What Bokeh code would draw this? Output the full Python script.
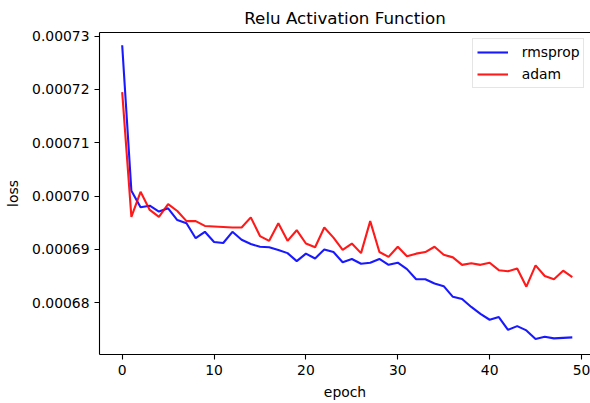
from bokeh.plotting import figure
from bokeh.models import Range1d, FixedTicker, PrintfTickFormatter, LinearAxis, Legend, LegendItem
from bokeh.embed import file_html
from bokeh.resources import INLINE

epochs = list(range(50))
rmsprop = [72.83, 70.10, 69.79, 69.82, 69.71, 69.77, 69.55, 69.49, 69.21, 69.33,
           69.14, 69.12, 69.33, 69.18, 69.10, 69.05, 69.04, 68.99, 68.93, 68.78,
           68.92, 68.83, 69.00, 68.95, 68.76, 68.82, 68.73, 68.75, 68.82, 68.71,
           68.75, 68.63, 68.44, 68.44, 68.36, 68.31, 68.11, 68.07, 67.92, 67.79,
           67.68, 67.73, 67.49, 67.56, 67.48, 67.32, 67.36, 67.33, 67.34, 67.35]
adam = [71.95, 69.61, 70.08, 69.74, 69.61, 69.85, 69.72, 69.53, 69.53, 69.44,
        69.43, 69.42, 69.41, 69.41, 69.60, 69.25, 69.16, 69.49, 69.16, 69.36,
        69.11, 69.04, 69.41, 69.22, 68.99, 69.11, 68.93, 69.53, 68.95, 68.86,
        69.05, 68.87, 68.92, 68.95, 69.05, 68.90, 68.85, 68.71, 68.74, 68.71,
        68.75, 68.61, 68.59, 68.64, 68.30, 68.70, 68.50, 68.44, 68.60, 68.48]
scale = 1e-5
rmsprop = [v * scale for v in rmsprop]
adam = [v * scale for v in adam]
x_ticks = [0, 10, 20, 30, 40, 50]
y_ticks = [0.00068, 0.00069, 0.00070, 0.00071, 0.00072, 0.00073]

FONT = "DejaVu Sans"
FS = "13.9px"

p = figure(width=590, height=403, output_backend="svg", toolbar_location=None,
           x_range=Range1d(-2.47, 50.98), y_range=Range1d(0.00067028, 0.00073069),
           min_border_left=99, min_border_right=0, min_border_top=32, min_border_bottom=49,
           title="Relu Activation Function")
p.outline_line_color = None
p.background_fill_color = "white"
p.border_fill_color = "white"
p.xgrid.visible = False
p.ygrid.visible = False

p.title.text_font = FONT
p.title.text_font_size = "16.7px"
p.title.text_font_style = "normal"
p.title.align = "center"
p.title.text_color = "black"

for ax in [p.xaxis[0], p.yaxis[0]]:
    ax.axis_line_color = "black"
    ax.axis_line_width = 1.1
    ax.major_tick_line_color = "black"
    ax.major_tick_line_width = 1.1
    ax.major_tick_out = 5
    ax.major_tick_in = 0
    ax.minor_tick_line_color = None
    ax.major_label_text_font = FONT
    ax.major_label_text_font_size = FS
    ax.major_label_text_color = "black"
    ax.axis_label_text_font = FONT
    ax.axis_label_text_font_size = FS
    ax.axis_label_text_font_style = "normal"
    ax.axis_label_text_color = "black"
    ax.major_label_standoff = 5

p.xaxis[0].ticker = FixedTicker(ticks=x_ticks)
p.yaxis[0].ticker = FixedTicker(ticks=y_ticks)
p.yaxis[0].formatter = PrintfTickFormatter(format="%.5f")
p.xaxis[0].axis_label = "epoch"
p.yaxis[0].axis_label = "loss"
p.xaxis[0].axis_label_standoff = 6
p.yaxis[0].axis_label_standoff = 8

top = LinearAxis(ticker=FixedTicker(ticks=[]), major_label_text_font_size="0px",
                 axis_line_color="black", axis_line_width=1.1,
                 major_tick_line_color=None, minor_tick_line_color=None)
p.add_layout(top, "above")

r1 = p.line(epochs, rmsprop, line_color="#0000ff", line_width=2.1, line_alpha=0.9)
r2 = p.line(epochs, adam, line_color="#ff0000", line_width=2.1, line_alpha=0.9)

legend = Legend(items=[LegendItem(label="rmsprop", renderers=[r1]),
                       LegendItem(label="adam", renderers=[r2])],
                location=(372.7, 266.2))
legend.label_text_font = FONT
legend.label_text_font_size = FS
legend.label_text_color = "black"
legend.glyph_width = 31
legend.glyph_height = 18
legend.label_height = 18
legend.label_standoff = 14
legend.spacing = 4
legend.padding = 4
legend.margin = 0
legend.border_line_color = "#cccccc"
legend.border_line_width = 1
legend.background_fill_alpha = 0.8
p.add_layout(legend, "center")

open("out.html", "w").write(file_html(p, INLINE))
